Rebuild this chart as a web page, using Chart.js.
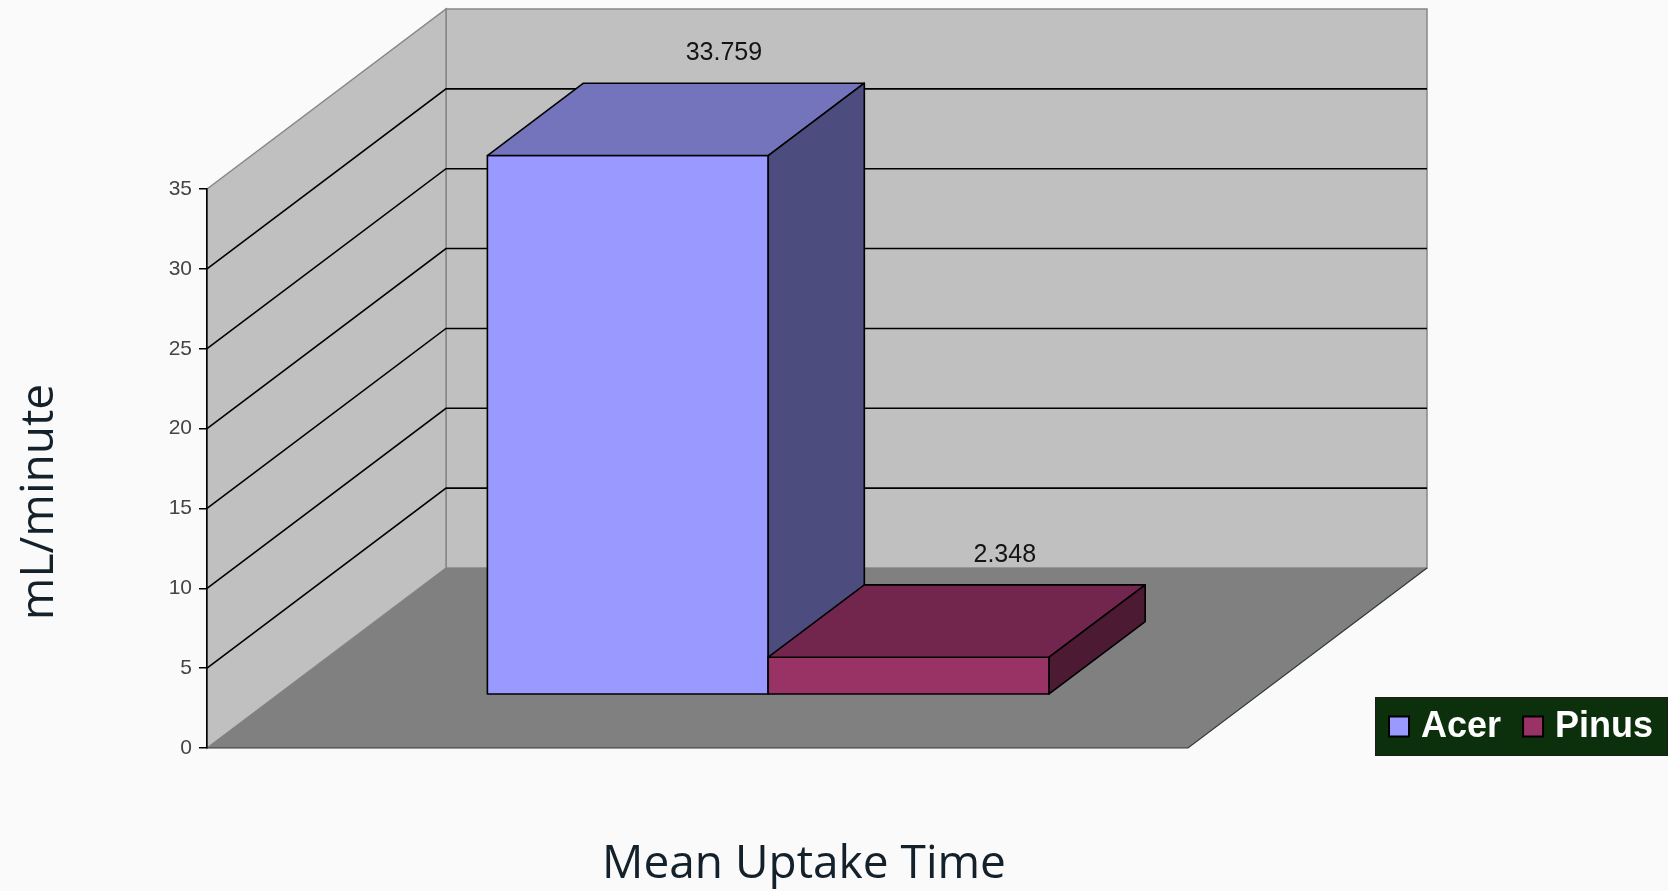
<!DOCTYPE html>
<html>
<head>
<meta charset="utf-8">
<title>Mean Uptake Time</title>
<script src="https://cdn.jsdelivr.net/npm/chart.js@4.4.1/dist/chart.umd.min.js"></script>
<style>
  html, body { margin: 0; padding: 0; background: #fafafa; }
  #chart { display: block; }
</style>
</head>
<body>
<canvas id="chart" width="1668" height="891"></canvas>
<script>
// ---- data ----
const categories = ['Mean Uptake Time'];
const seriesNames = ['Acer', 'Pinus'];
const acerValues = [33.759];
const pinusValues = [2.348];
const yMin = 0;
const yMax = 35;
const yStep = 5;
const yAxisTitle = 'mL/minute';

// ---- styling ----
const seriesShades = [
  { front: '#9999ff', top: '#7474bd', side: '#4c4c7e' },
  { front: '#993366', top: '#73264d', side: '#4d1a33' }
];
// oblique projection used for the 3D room: full depth offset, and the
// slab of depth that the bars occupy (fractions of full depth)
const room = { dx: 239, dy: -180, barFront: 0.296, barBack: 0.698 };

function poly(ctx, pts, fill, stroke, lw) {
  ctx.beginPath();
  ctx.moveTo(pts[0][0], pts[0][1]);
  for (let i = 1; i < pts.length; i++) ctx.lineTo(pts[i][0], pts[i][1]);
  ctx.closePath();
  if (fill) { ctx.fillStyle = fill; ctx.fill(); }
  if (stroke) { ctx.strokeStyle = stroke; ctx.lineWidth = lw || 1; ctx.stroke(); }
}

// walls, floor and gridlines of the 3D room, drawn before the axes
const roomPlugin = {
  id: 'room3d',
  beforeDraw(chart) {
    const { ctx, chartArea: a, scales: { y } } = chart;
    const { dx, dy } = room;
    ctx.save();
    ctx.fillStyle = '#fafafa';
    ctx.fillRect(0, 0, chart.width, chart.height);

    // back wall
    poly(ctx, [[a.left + dx, a.top + dy], [a.right + dx, a.top + dy],
               [a.right + dx, a.bottom + dy], [a.left + dx, a.bottom + dy]],
         '#c0c0c0', '#868686', 1.5);
    // side wall
    poly(ctx, [[a.left, a.top], [a.left + dx, a.top + dy],
               [a.left + dx, a.bottom + dy], [a.left, a.bottom]],
         '#c0c0c0', '#868686', 1.5);
    // floor
    poly(ctx, [[a.left, a.bottom], [a.right, a.bottom],
               [a.right + dx, a.bottom + dy], [a.left + dx, a.bottom + dy]],
         '#808080', null);
    ctx.beginPath();
    ctx.moveTo(a.left, a.bottom);
    ctx.lineTo(a.right, a.bottom);
    ctx.lineTo(a.right + dx, a.bottom + dy);
    ctx.strokeStyle = '#2e3a2e';
    ctx.lineWidth = 1.2;
    ctx.stroke();

    // gridlines across side wall and back wall
    ctx.strokeStyle = '#000000';
    ctx.lineWidth = 1.6;
    y.ticks.forEach(t => {
      if (t.value <= y.min || t.value >= y.max) return;
      const py = y.getPixelForValue(t.value);
      ctx.beginPath();
      ctx.moveTo(a.left, py);
      ctx.lineTo(a.left + dx, py + dy);
      ctx.lineTo(a.right + dx, py + dy);
      ctx.stroke();
    });
    ctx.restore();
  }
};

// extruded bars, using the geometry of the library's bar elements
const barsPlugin = {
  id: 'bars3d',
  afterDatasetsDraw(chart) {
    const { ctx } = chart;
    const { dx, dy, barFront, barBack } = room;
    const fx = dx * barFront, fy = dy * barFront;
    const bx = dx * barBack, by = dy * barBack;
    ctx.save();
    ctx.lineJoin = 'round';
    chart.data.datasets.forEach((ds, i) => {
      const meta = chart.getDatasetMeta(i);
      const shade = seriesShades[i];
      meta.data.forEach((el, j) => {
        const { x, y, base, width } = el.getProps(['x', 'y', 'base', 'width'], true);
        const l = x - width / 2, r = x + width / 2;
        // front face
        poly(ctx, [[l + fx, y + fy], [r + fx, y + fy], [r + fx, base + fy], [l + fx, base + fy]],
             shade.front, '#000', 1.6);
        // top face
        poly(ctx, [[l + fx, y + fy], [r + fx, y + fy], [r + bx, y + by], [l + bx, y + by]],
             shade.top, '#000', 1.6);
        // right side face
        poly(ctx, [[r + fx, y + fy], [r + bx, y + by], [r + bx, base + by], [r + fx, base + fy]],
             shade.side, '#000', 1.6);
        // value label
        ctx.fillStyle = '#141414';
        ctx.font = '25px "Liberation Sans", Arial, sans-serif';
        ctx.textAlign = 'center';
        ctx.textBaseline = 'middle';
        ctx.fillText(String(ds.data[j]), x + bx, y + by - 30);
      });
    });
    ctx.restore();
  }
};

// axis titles and the boxed legend
const decorPlugin = {
  id: 'decor',
  afterDraw(chart) {
    const { ctx } = chart;
    ctx.save();
    // y title
    ctx.fillStyle = '#14212b';
    ctx.font = '46px "Open Sans", sans-serif';
    ctx.textAlign = 'center';
    ctx.textBaseline = 'alphabetic';
    ctx.save();
    ctx.translate(53, 502);
    ctx.rotate(-Math.PI / 2);
    ctx.fillText(yAxisTitle, 0, 0);
    ctx.restore();
    // x title (the category)
    ctx.fillText(chart.data.labels[0], 804, 878);

    // legend
    const box = { x: 1375, y: 697, w: 293, h: 59 };
    ctx.fillStyle = '#0b300b';
    ctx.fillRect(box.x, box.y, box.w, box.h);
    ctx.strokeStyle = '#1c1c1c';
    ctx.lineWidth = 1;
    ctx.strokeRect(box.x + 0.5, box.y + 0.5, box.w - 1, box.h - 1);
    ctx.font = 'bold 36px "Liberation Sans", Arial, sans-serif';
    ctx.textAlign = 'left';
    ctx.textBaseline = 'middle';
    let cx = box.x + 14;
    const cy = box.y + box.h / 2;
    chart.data.datasets.forEach((ds, i) => {
      const s = 20;
      ctx.fillStyle = seriesShades[i].front;
      ctx.fillRect(cx, cy - s / 2, s, s);
      ctx.strokeStyle = '#000';
      ctx.lineWidth = 2;
      ctx.strokeRect(cx, cy - s / 2, s, s);
      cx += s + 12;
      ctx.fillStyle = '#ffffff';
      ctx.fillText(ds.label, cx, cy + 1);
      cx += ctx.measureText(ds.label).width + 22;
    });
    ctx.restore();
  }
};

new Chart(document.getElementById('chart'), {
  type: 'bar',
  data: {
    labels: categories,
    datasets: [
      { label: seriesNames[0], data: acerValues, backgroundColor: 'rgba(0,0,0,0)' },
      { label: seriesNames[1], data: pinusValues, backgroundColor: 'rgba(0,0,0,0)' }
    ]
  },
  options: {
    responsive: false,
    devicePixelRatio: 1,
    animation: false,
    layout: { padding: { left: 0, top: 189, right: 480, bottom: 143 } },
    datasets: { bar: { categoryPercentage: 0.5726, barPercentage: 1.0 } },
    scales: {
      x: { display: false },
      y: {
        min: yMin,
        max: yMax,
        afterFit(scale) { scale.width = 207; },
        ticks: {
          stepSize: yStep,
          padding: 7,
          color: '#444444',
          font: { family: '"Liberation Sans", Arial, sans-serif', size: 21 }
        },
        grid: { drawOnChartArea: false, drawTicks: true, tickLength: 8, color: '#000', lineWidth: 1.5 },
        border: { display: true, color: '#000', width: 1.6 }
      }
    },
    plugins: {
      legend: { display: false },
      tooltip: { enabled: false }
    }
  },
  plugins: [roomPlugin, barsPlugin, decorPlugin]
});
</script>
</body>
</html>
